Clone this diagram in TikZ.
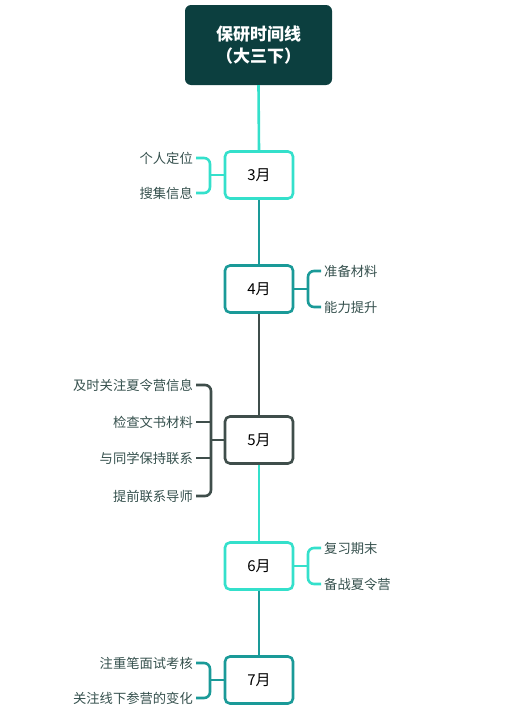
\documentclass[tikz,border=0pt]{standalone}
\usepackage{fontspec}
\setmainfont{Noto Sans CJK SC}
\definecolor{rootfill}{HTML}{0C3F3F}
\definecolor{cyanline}{HTML}{34E0CB}
\definecolor{tealline}{HTML}{1A9A98}
\definecolor{greyline}{HTML}{3F4E4B}
\definecolor{itemtext}{HTML}{35504D}
\tikzset{
  month/.style={draw=#1, line width=2.6pt, rounded corners=5pt, fill=white,
    minimum width=68pt, minimum height=47pt, font=\fontsize{15}{17}\selectfont},
  item/.style={text=itemtext, inner sep=3pt, font=\fontsize{13.3}{15}\selectfont},
  link/.style={draw=#1, line width=2.6pt},
  brace/.style={draw=#1, line width=2.6pt, rounded corners=6pt}
}
\begin{document}
\begin{tikzpicture}[x=1pt,y=-1pt]
  \useasboundingbox (0,0) rectangle (528,712);
  % Define nodes for all elements
  \node[fill=rootfill, rounded corners=6pt, minimum width=147pt, minimum height=80pt,
    text=white, align=center, font=\fontsize{17}{22}\selectfont\bfseries] (root) at (258.5,45) {保研时间线\\（大三下）};
  \node[month=cyanline] (m3) at (259,175) {3月};
  \node[month=tealline] (m4) at (259,289) {4月};
  \node[month=greyline] (m5) at (259,440) {5月};
  \node[month=cyanline] (m6) at (259,566) {6月};
  \node[month=tealline] (m7) at (259,680) {7月};

  \node[item, anchor=east] (m3a) at (196,158) {个人定位};
  \node[item, anchor=east] (m3b) at (196,193) {搜集信息};
  \node[item, anchor=west] (m4a) at (321,271) {准备材料};
  \node[item, anchor=west] (m4b) at (321,307) {能力提升};
  \node[item, anchor=east] (m5a) at (196,385) {及时关注夏令营信息};
  \node[item, anchor=east] (m5b) at (196,422) {检查文书材料};
  \node[item, anchor=east] (m5c) at (196,458) {与同学保持联系};
  \node[item, anchor=east] (m5d) at (196,496) {提前联系导师};
  \node[item, anchor=west] (m6a) at (321,548) {复习期末};
  \node[item, anchor=west] (m6b) at (321,584) {备战夏令营};
  \node[item, anchor=east] (m7a) at (196,663) {注重笔面试考核};
  \node[item, anchor=east] (m7b) at (196,698) {关注线下参营的变化};

  \coordinate (b3) at (210,175);
  \coordinate (b4) at (308,289);
  \coordinate (b5) at (211,440);
  \coordinate (b6) at (308,566);
  \coordinate (b7) at (210,680);

  % Draw spine
  \draw[link=cyanline] (root.south) -- (m3.north);
  \draw[link=tealline] (m3.south) -- (m4.north);
  \draw[link=greyline] (m4.south) -- (m5.north);
  \draw[link=cyanline] (m5.south) -- (m6.north);
  \draw[link=tealline] (m6.south) -- (m7.north);

  % Draw braces
  \draw[brace=cyanline] (m3a.east) -| (b3) |- (m3b.east);
  \draw[link=cyanline] (b3) -- (m3.west);
  \draw[brace=tealline] (m4a.west) -| (b4) |- (m4b.west);
  \draw[link=tealline] (b4) -- (m4.east);
  \draw[brace=greyline] (m5a.east) -| (b5) |- (m5d.east);
  \draw[link=greyline] (m5b.east) -- (m5b.east -| b5);
  \draw[link=greyline] (m5c.east) -- (m5c.east -| b5);
  \draw[link=greyline] (b5) -- (m5.west);
  \draw[brace=cyanline] (m6a.west) -| (b6) |- (m6b.west);
  \draw[link=cyanline] (b6) -- (m6.east);
  \draw[brace=tealline] (m7a.east) -| (b7) |- (m7b.east);
  \draw[link=tealline] (b7) -- (m7.west);
\end{tikzpicture}
\end{document}
